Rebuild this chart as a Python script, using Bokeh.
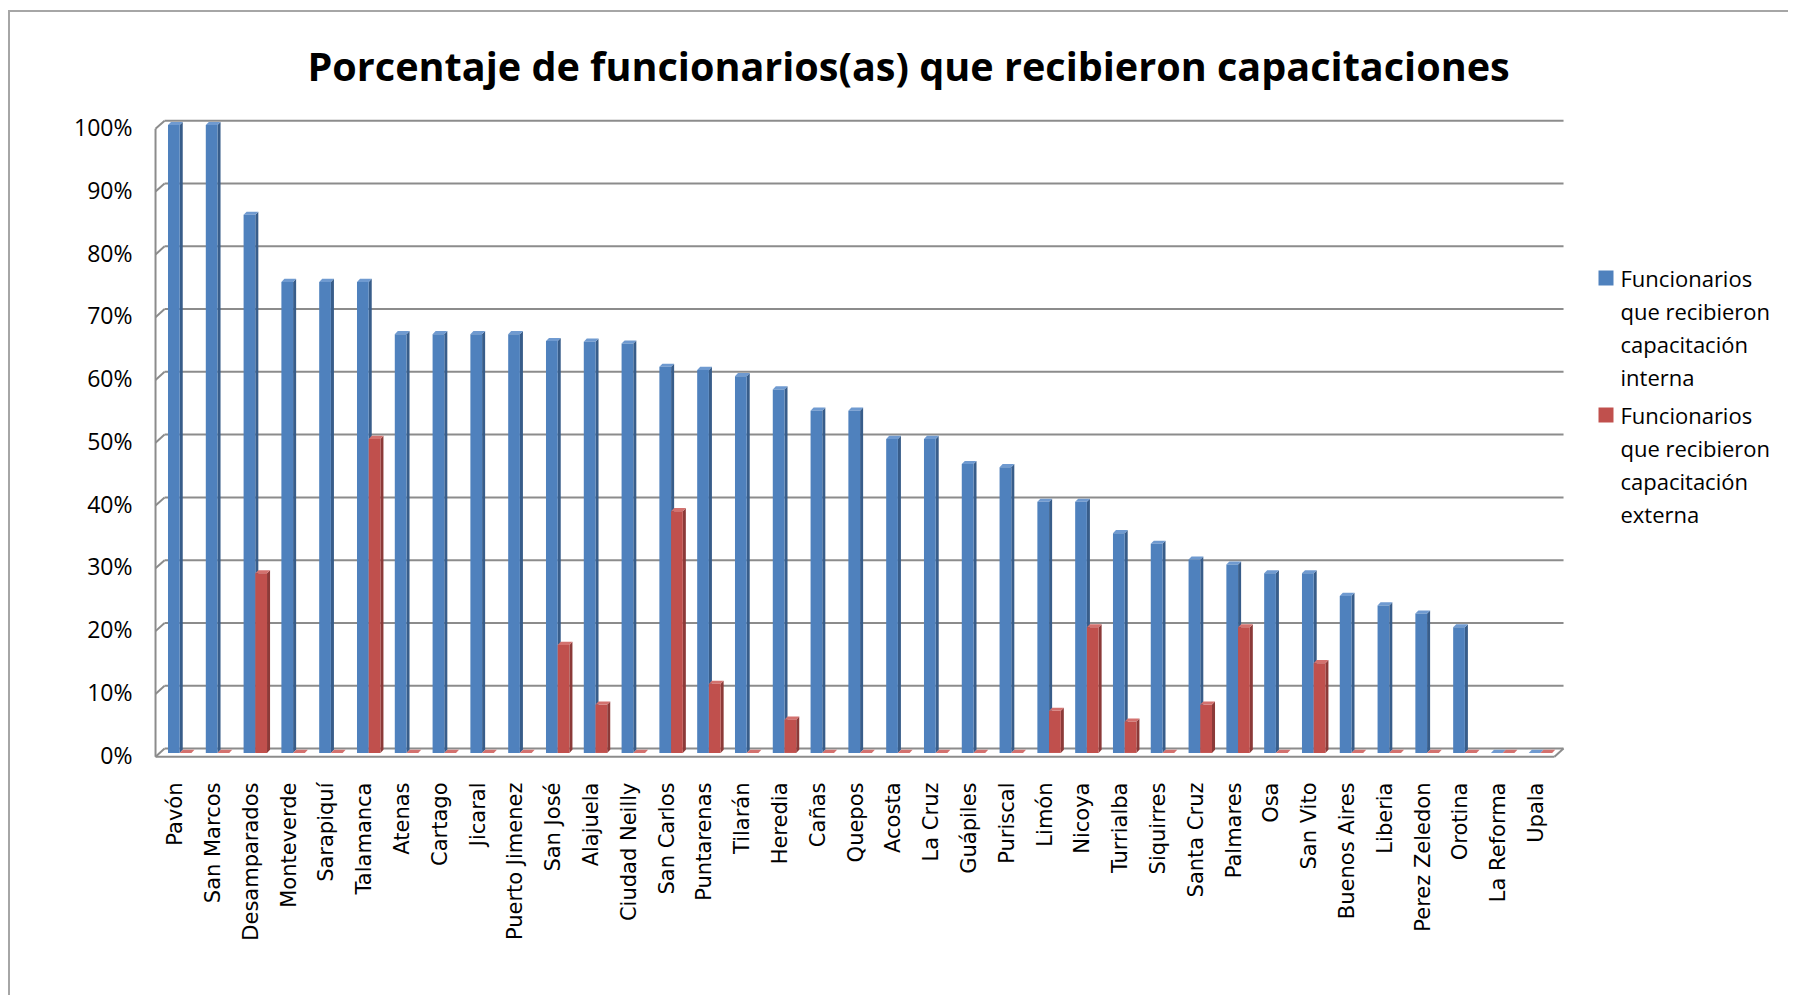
import numpy as np
from bokeh.plotting import figure
from bokeh.models import FixedTicker, Range1d, Label, BoxAnnotation
from bokeh.embed import file_html
from bokeh.resources import INLINE

municipios = ["Pavón", "San Marcos", "Desamparados", "Monteverde", "Sarapiquí", "Talamanca",
              "Atenas", "Cartago", "Jicaral", "Puerto Jimenez", "San José", "Alajuela",
              "Ciudad Neilly", "San Carlos", "Puntarenas", "Tilarán", "Heredia", "Cañas",
              "Quepos", "Acosta", "La Cruz", "Guápiles", "Puriscal", "Limón", "Nicoya",
              "Turrialba", "Siquirres", "Santa Cruz", "Palmares", "Osa", "San Vito",
              "Buenos Aires", "Liberia", "Perez Zeledon", "Orotina", "La Reforma", "Upala"]
interna = [1.00, 1.00, 0.857, 0.75, 0.75, 0.75,
           0.667, 0.667, 0.667, 0.667, 0.656, 0.655,
           0.652, 0.615, 0.61, 0.60, 0.579, 0.545,
           0.545, 0.50, 0.50, 0.46, 0.455, 0.40, 0.40,
           0.35, 0.333, 0.308, 0.30, 0.286, 0.286,
           0.25, 0.235, 0.222, 0.20, 0.0, 0.0]
externa = [0.0, 0.0, 0.286, 0.0, 0.0, 0.50,
           0.0, 0.0, 0.0, 0.0, 0.172, 0.077,
           0.0, 0.385, 0.11, 0.0, 0.053, 0.0,
           0.0, 0.0, 0.0, 0.0, 0.0, 0.067, 0.20,
           0.05, 0.0, 0.077, 0.20, 0.0, 0.143,
           0.0, 0.0, 0.0, 0.0, 0.0, 0.0]
y_ticks = [0.0, 0.1, 0.2, 0.3, 0.4, 0.5, 0.6, 0.7, 0.8, 0.9, 1.0]
y_tick_labels = ["0%", "10%", "20%", "30%", "40%", "50%", "60%", "70%", "80%", "90%", "100%"]
serie_labels = ["Funcionarios\nque recibieron\ncapacitación\ninterna",
                "Funcionarios\nque recibieron\ncapacitación\nexterna"]

BLUE, BLUE_SIDE, BLUE_TOP = "#4F81BD", "#385D8A", "#6F9AD0"
RED, RED_SIDE, RED_TOP = "#C0504D", "#8C3A38", "#D3716E"
GRID = "#8c8c8c"

W_FRONT = 0.31
SIDE = 0.08
DEP = 0.005
SHIFT = 0.12
X_START, X_END = -0.6, 42.47       # extra room on the right of the frame for the legend
WALL_BACK_X, WALL_FRONT_X = -0.28, -0.52
WALL_RIGHT_BACK, WALL_RIGHT_FRONT = 36.73, 36.49
BACK_DY, FRONT_DY = 0.007, -0.006  # 3-D wall offsets (back wall up, front edge down)
LABEL_DROP = 0.003

p = figure(width=1780, height=985, output_backend="svg", toolbar_location=None,
           x_range=Range1d(X_START, X_END), y_range=Range1d(-0.02, 1.012),
           min_border_left=142, min_border_right=10, min_border_top=100, min_border_bottom=232,
           styles={"margin-left": "8px", "margin-top": "10px",
                   "border-top": "2px solid #a6a6a6", "border-left": "2px solid #a6a6a6"})
p.outline_line_color = None
p.background_fill_color = "white"
p.xgrid.grid_line_color = None
p.ygrid.grid_line_color = None

n = len(y_ticks)
back_y = [t + BACK_DY for t in y_ticks]
front_y = [t + FRONT_DY for t in y_ticks]
# back-wall gridlines
p.segment(x0=[WALL_BACK_X] * n, x1=[WALL_RIGHT_BACK] * n, y0=back_y, y1=back_y,
          line_color=GRID, line_width=2)
# side-wall diagonals
p.segment(x0=[WALL_FRONT_X] * n, x1=[WALL_BACK_X] * n, y0=front_y, y1=back_y,
          line_color=GRID, line_width=2)
# left wall front edge
p.segment(x0=[WALL_FRONT_X], x1=[WALL_FRONT_X], y0=[front_y[0]], y1=[front_y[-1]],
          line_color=GRID, line_width=2)
# floor front edge and right diagonal
p.segment(x0=[WALL_FRONT_X, WALL_RIGHT_FRONT], x1=[WALL_RIGHT_FRONT, WALL_RIGHT_BACK],
          y0=[front_y[0], front_y[0]], y1=[front_y[0], back_y[0]],
          line_color=GRID, line_width=2)

x = np.arange(len(municipios))

def bars3d(centers, vals, front, side, top):
    centers = np.asarray(centers, dtype=float)
    vals = np.asarray(vals, dtype=float)
    left = centers - W_FRONT / 2
    right = centers + W_FRONT / 2
    side_xs = [[r, r + SIDE, r + SIDE, r] for r in right]
    side_ys = [[0, DEP, v + DEP, v] for v in vals]
    top_xs = [[l, r, r + SIDE, l + SIDE] for l, r in zip(left, right)]
    top_ys = [[v, v, v + DEP, v + DEP] for v in vals]
    p.patches(side_xs, side_ys, fill_color=side, line_color=None)
    p.patches(top_xs, top_ys, fill_color=top, line_color=None)
    return p.vbar(x=centers, width=W_FRONT, top=vals, bottom=0, fill_color=front, line_color=None)

r1 = bars3d(x + SHIFT - W_FRONT / 2, interna, BLUE, BLUE_SIDE, BLUE_TOP)
r2 = bars3d(x + SHIFT + W_FRONT / 2, externa, RED, RED_SIDE, RED_TOP)

# Title
p.title.text = "Porcentaje de funcionarios(as) que recibieron capacitaciones"
p.title.text_font = "Open Sans"
p.title.text_font_style = "bold"
p.title.text_font_size = "39.6px"
p.title.align = "left"
p.title.offset = 155
p.title.standoff = 49
p.title.text_color = "black"

# Axes
p.xaxis.ticker = FixedTicker(ticks=list(range(len(municipios))))
p.xaxis.major_label_overrides = {i: m for i, m in enumerate(municipios)}
p.xaxis.major_label_orientation = np.pi / 2
p.xaxis.major_label_text_font = "DejaVu Sans"
p.xaxis.major_label_text_font_size = "21px"
p.xaxis.major_label_text_color = "black"
p.xaxis.major_label_standoff = 17
p.xaxis.axis_line_color = None
p.xaxis.major_tick_line_color = None
p.xaxis.major_tick_out = 0
p.xaxis.major_tick_in = 0
p.xaxis.minor_tick_line_color = None

y_label_pos = [round(t - LABEL_DROP, 4) for t in y_ticks]
p.yaxis.ticker = FixedTicker(ticks=y_label_pos)
p.yaxis.major_label_overrides = {pos: lab for pos, lab in zip(y_label_pos, y_tick_labels)}
p.yaxis.major_label_text_font = "Open Sans"
p.yaxis.major_label_text_font_size = "23px"
p.yaxis.major_label_text_color = "black"
p.yaxis.major_label_standoff = 20
p.yaxis.axis_line_color = None
p.yaxis.major_tick_line_color = None
p.yaxis.major_tick_in = 0
p.yaxis.major_tick_out = 0
p.yaxis.minor_tick_line_color = None

# Legend (frame-relative screen units)
legend_colors = [BLUE, RED]
for i, (lab, col) in enumerate(zip(serie_labels, legend_colors)):
    top = 495 - i * 137
    p.add_layout(BoxAnnotation(left=1446, right=1461, top=top, bottom=top - 15,
                               left_units="screen", right_units="screen",
                               top_units="screen", bottom_units="screen",
                               fill_color=col, fill_alpha=1, line_color=None))
    p.add_layout(Label(x=1468, y=top + 8, x_units="screen", y_units="screen", text=lab,
                       text_font="Open Sans", text_font_size="22px", text_color="black",
                       text_baseline="top", text_align="left", text_line_height=1.1))

open("out.html", "w").write(file_html(p, INLINE))
